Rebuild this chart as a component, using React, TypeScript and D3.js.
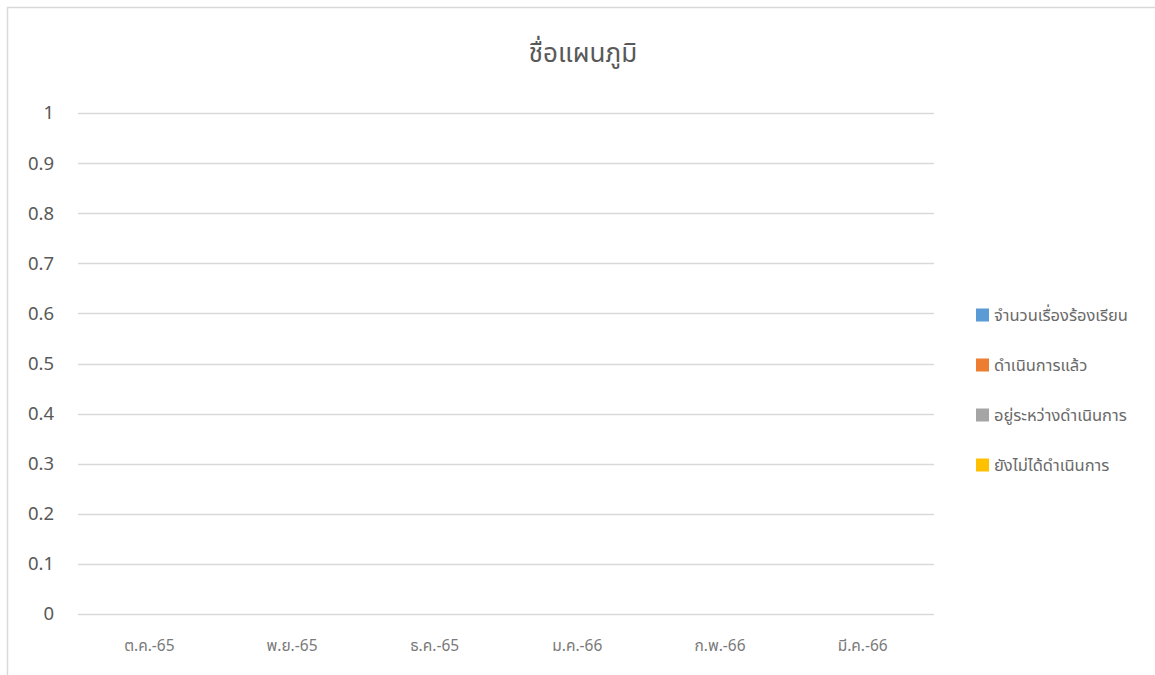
import React from "react";
import * as d3 from "d3";

const categories = ["ต.ค.-65", "พ.ย.-65", "ธ.ค.-65", "ม.ค.-66", "ก.พ.-66", "มี.ค.-66"];
const seriesNames = ["จำนวนเรื่องร้องเรียน", "ดำเนินการแล้ว", "อยู่ระหว่างดำเนินการ", "ยังไม่ได้ดำเนินการ"];
const seriesColors = ["#5B9BD5", "#ED7D31", "#A5A5A5", "#FFC000"];
const complaints: (number | null)[] = [null, null, null, null, null, null];
const done: (number | null)[] = [null, null, null, null, null, null];
const inProgress: (number | null)[] = [null, null, null, null, null, null];
const notDone: (number | null)[] = [null, null, null, null, null, null];
const yTicks = [0, 0.1, 0.2, 0.3, 0.4, 0.5, 0.6, 0.7, 0.8, 0.9, 1];
const title = "ชื่อแผนภูมิ";

const W = 1155, H = 675;
const plot = { left: 78, right: 934, top: 113, bottom: 614 };
const FONT = "'Noto Sans Thai', Tahoma, 'DejaVu Sans', 'Noto Sans', sans-serif";

export default function App() {
  const series = [complaints, done, inProgress, notDone];
  const x = d3.scaleBand<string>().domain(categories).range([plot.left, plot.right]).paddingInner(0.4).paddingOuter(0.2);
  const x0 = d3.scaleBand<string>().domain(categories).range([plot.left, plot.right]);
  const xs = d3.scaleBand<number>().domain(d3.range(series.length)).range([0, x.bandwidth()]);
  const y = d3.scaleLinear().domain([0, 1]).range([plot.bottom, plot.top]);
  const legendY = d3.scalePoint<number>().domain(d3.range(seriesNames.length)).range([315, 465]);

  return (
    <svg width={W} height={H} style={{ position: "absolute", left: 0, top: 0, background: "#fff" }} fontFamily={FONT}>
      <rect x={7.5} y={7.5} width={W + 10} height={H + 10} fill="#fff" stroke="#d9d9d9" strokeWidth={1.5} />
      <text x={583} y={62} textAnchor="middle" fontSize={26} fill="#595959">{title}</text>
      {yTicks.map((t) => (
        <g key={t}>
          <line x1={plot.left} x2={plot.right} y1={Math.round(y(t)) + 0.5} y2={Math.round(y(t)) + 0.5} stroke="#d9d9d9" strokeWidth={1.3} />
          <text x={54} y={y(t)} dy="0.35em" textAnchor="end" fontSize={18.5} fill="#595959">{t}</text>
        </g>
      ))}
      {series.map((vals, si) =>
        vals.map((v, ci) =>
          v == null ? null : (
            <rect key={`${si}-${ci}`} x={(x(categories[ci]) ?? 0) + (xs(si) ?? 0)} width={xs.bandwidth()} y={y(v)} height={y(0) - y(v)} fill={seriesColors[si]} />
          )
        )
      )}
      {categories.map((c) => (
        <text key={c} x={(x0(c) ?? 0) + x0.bandwidth() / 2} y={646} dy="0.35em" textAnchor="middle" fontSize={15.5} fill="#7a7a7a">{c}</text>
      ))}
      {seriesNames.map((n, i) => (
        <g key={n} transform={`translate(976, ${legendY(i)})`}>
          <rect x={0} y={-6.5} width={13} height={13} fill={seriesColors[i]} />
          <text x={18} y={0} dy="0.35em" fontSize={16.5} fill="#6a6a6a">{n}</text>
        </g>
      ))}
    </svg>
  );
}
